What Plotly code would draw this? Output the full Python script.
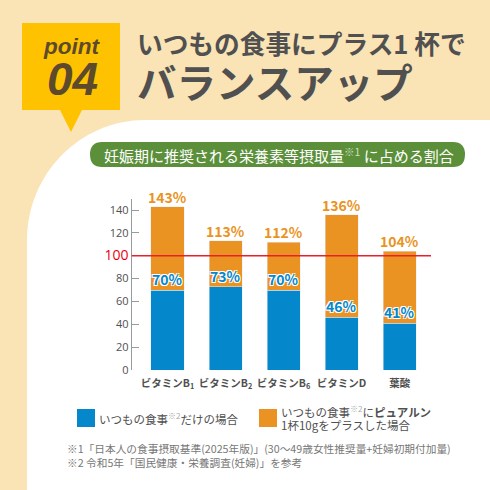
import plotly.graph_objects as go

categories = ['ビタミンB<sub>1</sub>', 'ビタミンB<sub>2</sub>', 'ビタミンB<sub>6</sub>', 'ビタミンD', '葉酸']
meal_values = [70, 73, 70, 46, 41]
total_values = [143, 113, 112, 136, 104]
added_values = [t - m for t, m in zip(total_values, meal_values)]
y_ticks = [0, 20, 40, 60, 80, 100, 120, 140]
y_tick_text = ['0', '20', '40', '60', '80', "<span style='color:#e60012;font-size:14px'>100</span>", '120', '140']

JP = 'Noto Sans CJK JP'
BLUE = '#0587cc'
ORANGE = '#ea9322'
DARK = '#505050'
W = 490


def px_x(x):
    return x / W


def px_y(y):
    return 1 - y / W


fig = go.Figure()

fig.add_bar(x=categories, y=meal_values, marker_color=BLUE, width=0.57, hoverinfo='skip')
fig.add_bar(x=categories, y=added_values, marker_color=ORANGE, width=0.57, hoverinfo='skip')

# white-outlined blue labels sit on top of the boundary, orange ones above the bar
for c, m, t in zip(categories, meal_values, total_values):
    fig.add_annotation(x=c, y=m, text=f'<b>{m}%</b>', showarrow=False, yanchor='bottom', yshift=-1,
                       font=dict(family=JP, size=14, color=BLUE,
                                 shadow='1px 1px 0 #fff, -1px -1px 0 #fff, 1px -1px 0 #fff, -1px 1px 0 #fff'))
    fig.add_annotation(x=c, y=t, text=f'<b>{t}%</b>', showarrow=False, yanchor='bottom', yshift=-2,
                       font=dict(family=JP, size=14, color=ORANGE))

fig.add_shape(type='line', xref='x domain', yref='y', x0=0, x1=1, y0=100, y1=100,
              line=dict(color='#e8202a', width=1.5))

# page background, badge and pill
shapes_bg = [
    dict(type='rect', x0=0, x1=1, y0=0, y1=1, fillcolor='#fae3b5'),
    dict(type='path', path=f'M {px_x(490)} {px_y(120)} L {px_x(145)} {px_y(120)} '
                           f'C {px_x(80)} {px_y(120)} {px_x(27)} {px_y(174)} {px_x(27)} {px_y(240)} '
                           f'L {px_x(27)} {px_y(490)} L {px_x(490)} {px_y(490)} Z', fillcolor='#ffffff'),
    dict(type='rect', x0=px_x(22), x1=px_x(120), y0=px_y(110), y1=px_y(23), fillcolor='#fec200'),
    dict(type='path', path=f'M {px_x(60)} {px_y(110)} L {px_x(82)} {px_y(110)} L {px_x(71)} {px_y(132)} Z',
         fillcolor='#fec200'),
    dict(type='path', path=f'M {px_x(102)} {px_y(142)} L {px_x(453)} {px_y(142)} '
                           f'Q {px_x(465)} {px_y(142)} {px_x(465)} {px_y(154.5)} '
                           f'Q {px_x(465)} {px_y(167)} {px_x(453)} {px_y(167)} '
                           f'L {px_x(102)} {px_y(167)} Q {px_x(90)} {px_y(167)} {px_x(90)} {px_y(154.5)} '
                           f'Q {px_x(90)} {px_y(142)} {px_x(102)} {px_y(142)} Z', fillcolor='#5b8f3a'),
    dict(type='rect', x0=px_x(77), x1=px_x(95), y0=px_y(409), y1=px_y(427), fillcolor=BLUE),
    dict(type='rect', x0=px_x(259), x1=px_x(277), y0=px_y(409), y1=px_y(427), fillcolor=ORANGE),
]
for s in shapes_bg:
    fig.add_shape(xref='paper', yref='paper', layer='below', line_width=0, **s)


def label(x, y, text, size, color=DARK, anchor='left', family=JP):
    fig.add_annotation(xref='paper', yref='paper', x=px_x(x), y=px_y(y), text=text, showarrow=False,
                       xanchor=anchor, yanchor='middle', align='left', xshift=0,
                       font=dict(family=family, size=size, color=color))


label(71, 46, '<b><i>point</i></b>', 22.5, '#5d4a2c', 'center', 'Liberation Sans')
label(72, 79, '<b><i>04</i></b>', 46, '#5d4a2c', 'center', 'Liberation Sans')
label(135, 43, '<b>いつもの食事にプラス1 杯で</b>', 25.7)
label(135, 81, '<b>バランスアップ</b>', 39.5)
label(102, 154.5, "妊娠期に推奨される栄養素等摂取量<span style='color:#cfe0c0'><sup>※1</sup></span> に占める割合", 15, '#ffffff')
label(97, 418, "いつもの食事<span style='color:#aaa'><sup>※2</sup></span>だけの場合", 11.5)
label(279, 411, "いつもの食事<span style='color:#aaa'><sup>※2</sup></span>に<b>ピュアルン</b>", 11.5)
label(279, 425, '1杯10gをプラスした場合', 11.5)
label(65, 448, '※1「日本人の食事摂取基準(2025年版)」(30〜49歳女性推奨量+妊婦初期付加量)', 10.7, '#777777')
label(65, 462, '※2 令和5年「国民健康・栄養調査(妊婦)」を参考', 10.7, '#777777')

fig.update_layout(
    width=490, height=490, barmode='stack', showlegend=False,
    margin=dict(l=0, r=0, t=0, b=0), paper_bgcolor='#ffffff', plot_bgcolor='rgba(0,0,0,0)',
    font=dict(family=JP, color=DARK),
    xaxis=dict(domain=[px_x(131.7), px_x(431)], range=[-0.617, 4.54], showline=False, ticks='',
               tickangle=0, automargin=False, ticklabelstandoff=5,
               tickfont=dict(size=10.5, color=DARK, family=JP, weight='bold'), showgrid=False),
    yaxis=dict(domain=[px_y(370), px_y(198.6)], range=[0, 150], tickvals=y_ticks, ticktext=y_tick_text,
               ticks='inside', ticklen=7, tickcolor='#9a9a9a', showline=True, linecolor='#9a9a9a',
               automargin=False, showgrid=False, zeroline=False,
               tickfont=dict(size=11, color=DARK, family='Open Sans')),
)

fig.write_html('out.html', config={'displayModeBar': False}, post_script="document.body.style.margin='0';")
